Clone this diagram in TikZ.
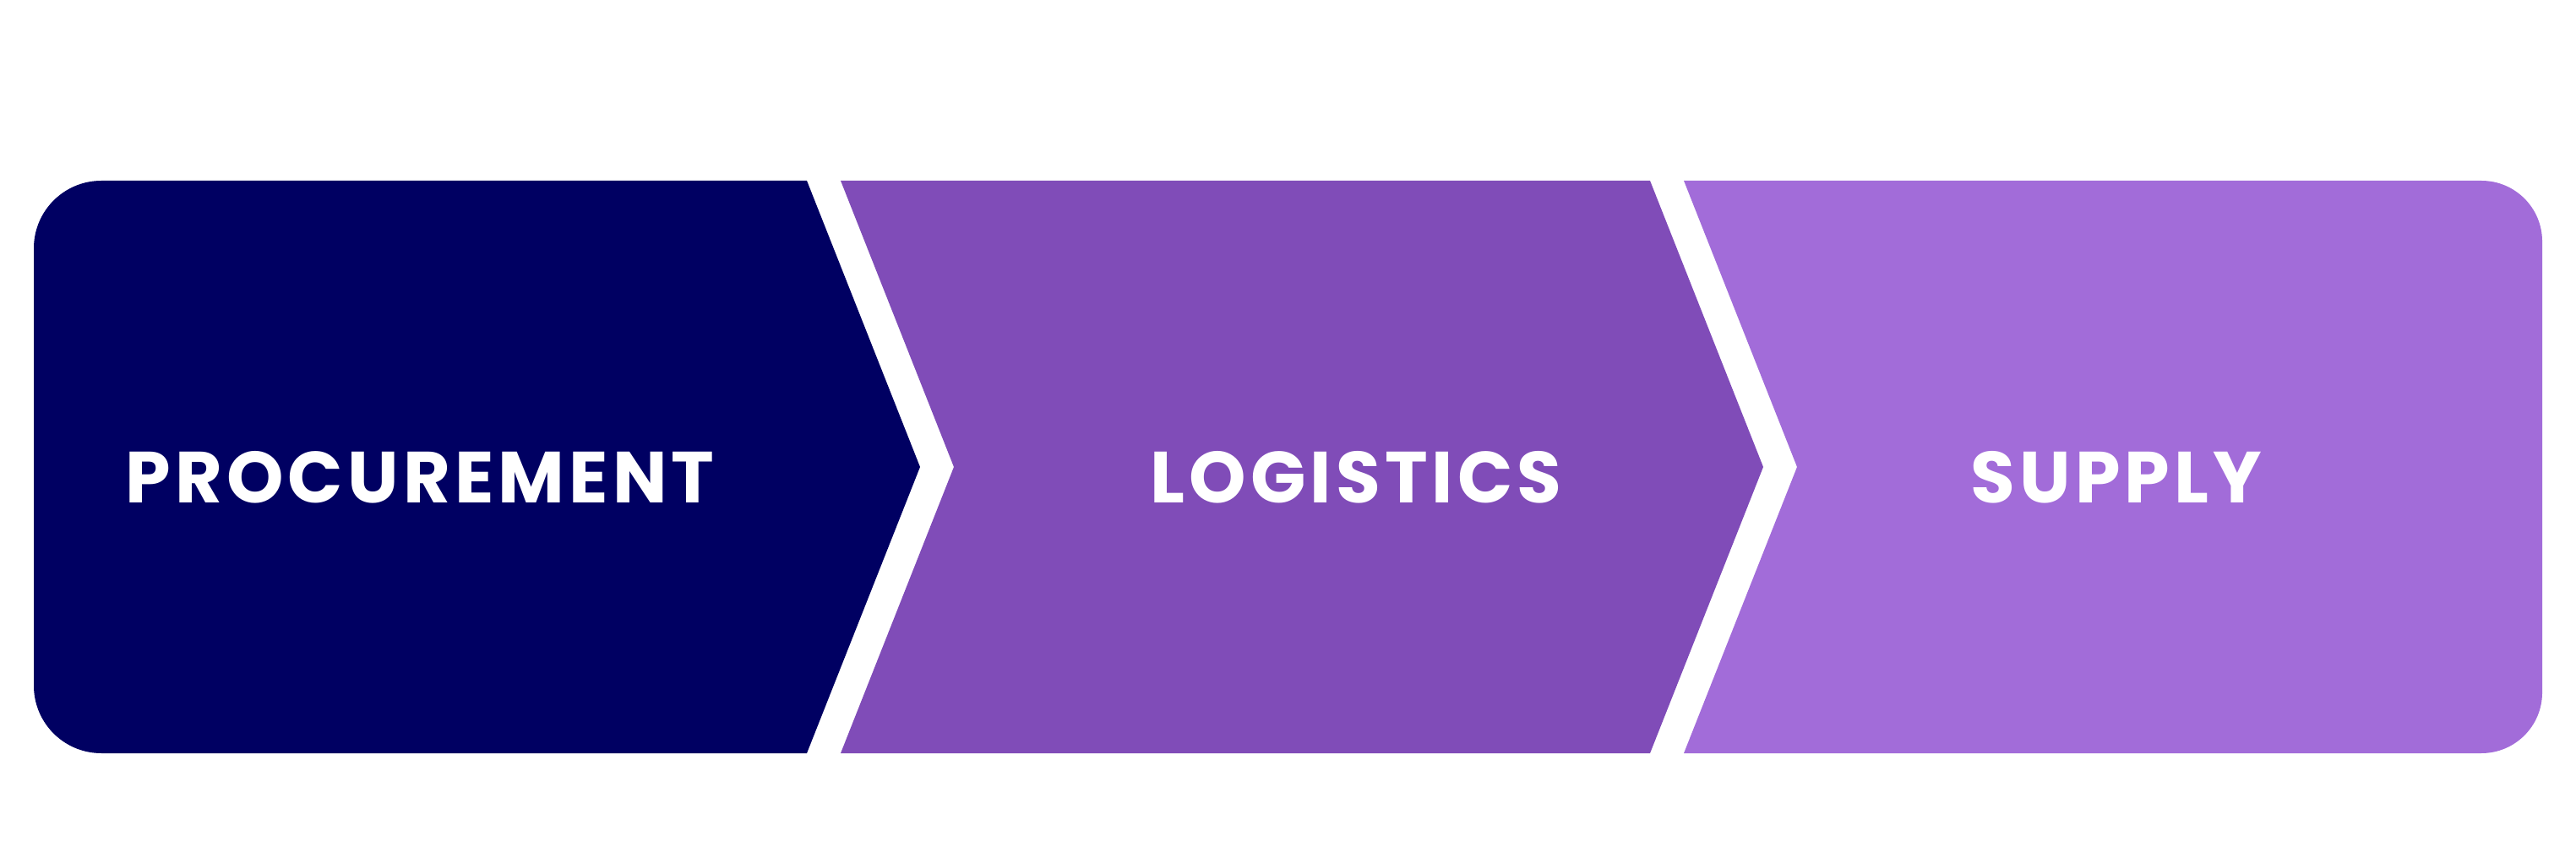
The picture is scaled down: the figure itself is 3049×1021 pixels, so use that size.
\documentclass[tikz,border=0pt]{standalone}
\usepackage{fontspec}
\setmainfont{Poppins}[LetterSpace=6]
\usepackage{tikz}
\usetikzlibrary{positioning}
\definecolor{procblue}{RGB}{0,0,98}
\definecolor{logpurple}{RGB}{128,76,184}
\definecolor{suplilac}{RGB}{162,108,217}

\begin{document}
\begin{tikzpicture}[
    x=0.01cm, y=0.01cm,
    stagetext/.style={text=white,
                      font=\fontsize{24.4}{29}\selectfont\bfseries,
                      anchor=base,
                      inner sep=0pt}]

    \useasboundingbox (0,0) rectangle (3049,1021);

    % the three stages
    \fill[procblue] (955,807) -- (120,807) arc[start angle=90, end angle=180, radius=80]
        -- (40,209) arc[start angle=180, end angle=270, radius=80]
        -- (955,129) -- (1089,468) -- cycle;
    \fill[logpurple] (995,807) -- (1953,807) -- (2087,468) -- (1953,129)
        -- (995,129) -- (1129,468) -- cycle;
    \fill[suplilac] (1993,807) -- (2937,807) arc[start angle=90, end angle=0, radius=72]
        -- (3009,201) arc[start angle=0, end angle=-90, radius=72]
        -- (1993,129) -- (2127,468) -- cycle;

    \node[stagetext] (proc) at (497,425) {PROCUREMENT};
    \node[stagetext] (logi) at (1605,425) {LOGISTICS};
    \node[stagetext] (supp) at (2505,425) {SUPPLY};

\end{tikzpicture}
\end{document}
